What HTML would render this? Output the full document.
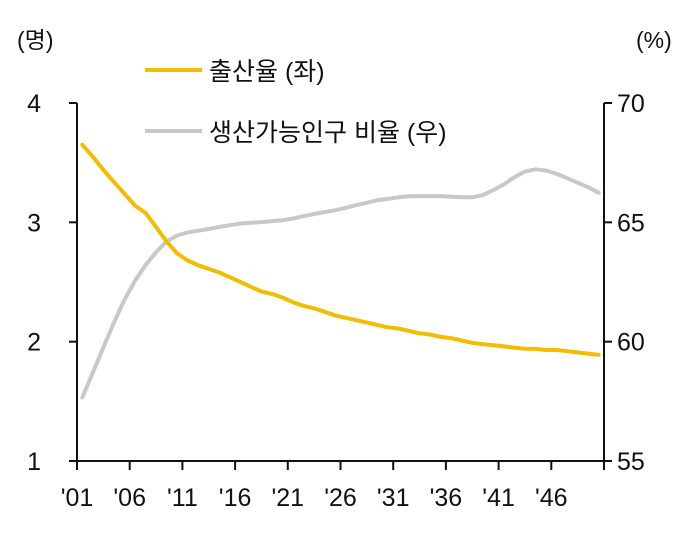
<!DOCTYPE html>
<html><head><meta charset="utf-8"><style>
body{margin:0;background:#fff;}
svg text{font-family:"Liberation Sans","Noto Sans CJK KR",sans-serif;fill:#111;}
</style></head><body>
<svg id="chart" width="695" height="532" viewBox="0 0 695 532" xmlns="http://www.w3.org/2000/svg">
<g id="axes"></g><g id="series"></g>
<text x="17" y="48" font-size="23">(명)</text>
<text x="636" y="48" font-size="23">(%)</text>
<line x1="145" y1="70" x2="202" y2="70" stroke="#F2BC00" stroke-width="4"/>
<text x="209" y="80" font-size="25">출산율 (좌)</text>
<line x1="145" y1="131" x2="202" y2="131" stroke="#C8C8C8" stroke-width="4"/>
<text x="209" y="141" font-size="25">생산가능인구 비율 (우)</text>
</svg>
<script>
const years=[];for(let y=2001;y<=2050;y++)years.push(y);
const birthRate=[3.65,3.55,3.44,3.34,3.24,3.14,3.08,2.96,2.84,2.74,2.68,2.64,2.61,2.58,2.54,2.50,2.46,2.42,2.40,2.37,2.33,2.30,2.28,2.25,2.22,2.20,2.18,2.16,2.14,2.12,2.11,2.09,2.07,2.06,2.04,2.03,2.01,1.99,1.98,1.97,1.96,1.95,1.94,1.94,1.93,1.93,1.92,1.91,1.90,1.89];
const workingAge=[57.66,58.70,59.75,60.80,61.75,62.55,63.20,63.75,64.20,64.45,64.58,64.65,64.72,64.81,64.88,64.95,64.98,65.01,65.05,65.09,65.16,65.26,65.35,65.43,65.51,65.61,65.72,65.82,65.93,65.98,66.05,66.09,66.10,66.10,66.10,66.07,66.05,66.05,66.14,66.35,66.59,66.89,67.13,67.22,67.17,67.03,66.85,66.66,66.47,66.24];
const xTickLabels=["'01","'06","'11","'16","'21","'26","'31","'36","'41","'46"];
const leftTicks=[1,2,3,4];
const rightTicks=[55,60,65,70];

const NS="http://www.w3.org/2000/svg";
const X0=77,X1=604,Y0=461,Y1=103;
const n=years.length;
const xPos=i=>X0+(i+0.5)*(X1-X0)/n;
const yL=v=>Y0-(v-1)/(4-1)*(Y0-Y1);
const yR=v=>Y0-(v-55)/(70-55)*(Y0-Y1);
function mk(tag,attrs,parent){const e=document.createElementNS(NS,tag);for(const k in attrs)e.setAttribute(k,attrs[k]);parent.appendChild(e);return e;}
const axes=document.getElementById('axes'),series=document.getElementById('series');
let e;
e=mk('line',{x1:X0,y1:Y1,x2:X0,y2:Y0,stroke:'#111','stroke-width':2},axes);


e=mk('line',{x1:X1,y1:Y1,x2:X1,y2:Y0,stroke:'#111','stroke-width':2},axes);


e=mk('line',{x1:X0,y1:Y0,x2:X1,y2:Y0,stroke:'#111','stroke-width':2},axes);


leftTicks.forEach(v=>{
  const y=yL(v);
  e=mk('line',{x1:X0-8,y1:y,x2:X0,y2:y,stroke:'#111','stroke-width':2},axes);
  
  
  e=mk('text',{x:41,y:y+9,'font-size':25,'text-anchor':'end'},axes);e.textContent=v;
  
  
});
rightTicks.forEach(v=>{
  const y=yR(v);
  e=mk('line',{x1:X1,y1:y,x2:X1+8,y2:y,stroke:'#111','stroke-width':2},axes);
  
  
  e=mk('text',{x:617,y:y+9,'font-size':25},axes);e.textContent=v;
  
  
});
const step=(X1-X0)/(n/5);
for(let i=0;i<=n/5;i++){
  const x=X0+i*step;
  e=mk('line',{x1:x,y1:Y0,x2:x,y2:Y0+9,stroke:'#111','stroke-width':2},axes);
  
  
  if(i<xTickLabels.length){
    e=mk('text',{x:x,y:Y0+45,'font-size':25,'text-anchor':'middle'},axes);e.textContent=xTickLabels[i];
    
    
  }
}
const gp=workingAge.map((v,i)=>xPos(i).toFixed(1)+','+yR(v).toFixed(1)).join(' ');
e=mk('polyline',{points:gp,fill:'none',stroke:'#C8C8C8','stroke-width':4,'stroke-linejoin':'round','stroke-linecap':'round'},series);


const yp=birthRate.map((v,i)=>xPos(i).toFixed(1)+','+yL(v).toFixed(1)).join(' ');
e=mk('polyline',{points:yp,fill:'none',stroke:'#F2BC00','stroke-width':4,'stroke-linejoin':'round','stroke-linecap':'round'},series);


</script>
</body></html>
